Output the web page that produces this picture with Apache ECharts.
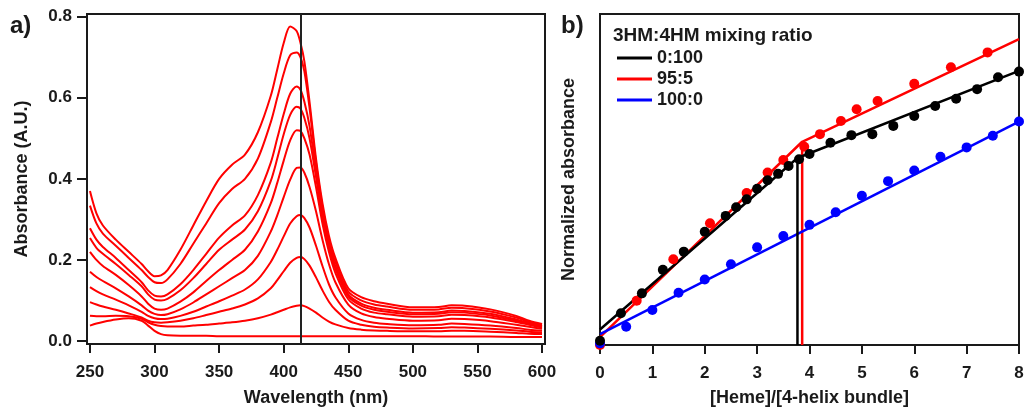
<!DOCTYPE html>
<html>
<head>
<meta charset="utf-8">
<script src="https://cdn.jsdelivr.net/npm/echarts@6/dist/echarts.min.js"></script>
<style>
  html, body { margin: 0; padding: 0; background: #fff; }
  #chart { width: 1025px; height: 407px; }
</style>
</head>
<body>
<div id="chart"></div>
<script>
// panel a : UV-vis titration spectra
var wavelengths = [250,255,260,270,280,290,295,300,305,310,320,330,340,350,360,370,380,390,395,400,405,410,413,416,420,425,430,435,440,450,460,470,480,500,520,530,540,560,580,590,600];

var spec1  = [0.370,0.315,0.285,0.250,0.220,0.190,0.172,0.160,0.162,0.175,0.225,0.285,0.345,0.400,0.435,0.460,0.515,0.605,0.670,0.735,0.776,0.765,0.735,0.690,0.590,0.450,0.340,0.260,0.205,0.130,0.108,0.098,0.092,0.083,0.084,0.088,0.087,0.078,0.062,0.050,0.042];
var spec2  = [0.334,0.290,0.265,0.235,0.205,0.175,0.158,0.145,0.143,0.152,0.190,0.240,0.290,0.340,0.375,0.400,0.450,0.540,0.600,0.660,0.705,0.712,0.700,0.665,0.575,0.440,0.330,0.250,0.195,0.122,0.100,0.090,0.085,0.077,0.078,0.082,0.081,0.073,0.058,0.047,0.040];
var spec3  = [0.278,0.250,0.232,0.205,0.175,0.145,0.125,0.112,0.110,0.115,0.140,0.175,0.215,0.255,0.285,0.310,0.360,0.440,0.500,0.560,0.610,0.628,0.620,0.590,0.530,0.420,0.315,0.240,0.185,0.115,0.092,0.082,0.077,0.070,0.071,0.075,0.074,0.067,0.053,0.044,0.037];
var spec4  = [0.254,0.230,0.215,0.190,0.163,0.135,0.115,0.102,0.100,0.104,0.125,0.155,0.190,0.225,0.250,0.275,0.320,0.395,0.450,0.510,0.558,0.578,0.573,0.550,0.500,0.405,0.305,0.232,0.178,0.110,0.087,0.077,0.072,0.066,0.067,0.071,0.070,0.063,0.050,0.042,0.035];
var spec5  = [0.220,0.200,0.185,0.163,0.138,0.110,0.092,0.080,0.077,0.080,0.097,0.120,0.148,0.175,0.200,0.225,0.270,0.340,0.390,0.445,0.495,0.520,0.518,0.500,0.460,0.380,0.290,0.220,0.168,0.103,0.080,0.070,0.066,0.060,0.061,0.065,0.064,0.058,0.047,0.040,0.033];
var spec6  = [0.171,0.158,0.148,0.130,0.110,0.088,0.075,0.067,0.064,0.066,0.078,0.095,0.115,0.135,0.155,0.175,0.210,0.270,0.310,0.355,0.398,0.427,0.428,0.415,0.380,0.320,0.250,0.190,0.145,0.090,0.068,0.059,0.055,0.050,0.051,0.055,0.054,0.049,0.040,0.035,0.030];
var spec7  = [0.133,0.123,0.115,0.102,0.088,0.072,0.062,0.056,0.054,0.055,0.062,0.072,0.085,0.098,0.112,0.127,0.152,0.195,0.225,0.258,0.290,0.308,0.311,0.303,0.280,0.235,0.185,0.140,0.108,0.068,0.052,0.045,0.042,0.039,0.040,0.043,0.042,0.038,0.032,0.028,0.025];
var spec8  = [0.096,0.090,0.085,0.077,0.068,0.058,0.050,0.046,0.045,0.046,0.050,0.056,0.064,0.072,0.080,0.090,0.105,0.130,0.150,0.172,0.193,0.205,0.207,0.202,0.186,0.157,0.125,0.097,0.077,0.050,0.040,0.035,0.033,0.031,0.032,0.034,0.033,0.030,0.026,0.023,0.021];
var spec9  = [0.062,0.061,0.061,0.062,0.061,0.055,0.046,0.040,0.037,0.036,0.036,0.038,0.040,0.043,0.046,0.050,0.056,0.065,0.071,0.077,0.083,0.087,0.088,0.086,0.080,0.070,0.058,0.048,0.041,0.032,0.028,0.026,0.025,0.024,0.024,0.025,0.025,0.023,0.020,0.018,0.017];
var spec10 = [0.038,0.043,0.047,0.053,0.056,0.050,0.038,0.025,0.017,0.014,0.013,0.013,0.013,0.012,0.012,0.012,0.012,0.012,0.012,0.012,0.012,0.012,0.012,0.012,0.012,0.012,0.012,0.012,0.012,0.012,0.012,0.012,0.012,0.012,0.011,0.011,0.011,0.011,0.010,0.010,0.010];
var spectra = [spec1, spec2, spec3, spec4, spec5, spec6, spec7, spec8, spec9, spec10];

var soretLine = 413;
var wlTicks = [250, 300, 350, 400, 450, 500, 550, 600];
var absTicks = [0, 0.2, 0.4, 0.6, 0.8];

// panel b : titration points + fits
var blackX = [0,0.4,0.8,1.2,1.6,2.0,2.4,2.6,2.8,3.0,3.2,3.4,3.6,3.8,4.0,4.4,4.8,5.2,5.6,6.0,6.4,6.8,7.2,7.6,8.0];
var blackY = [0.013,0.096,0.156,0.227,0.282,0.342,0.390,0.416,0.440,0.472,0.498,0.517,0.541,0.561,0.577,0.611,0.634,0.637,0.662,0.692,0.722,0.744,0.773,0.809,0.826];
var redX = [0,0.7,1.4,2.1,2.8,3.2,3.5,3.9,4.2,4.6,4.9,5.3,6.0,6.7,7.4];
var redY = [0.000,0.134,0.259,0.368,0.459,0.521,0.559,0.599,0.637,0.677,0.712,0.737,0.789,0.839,0.884];
var blueX = [0,0.5,1.0,1.5,2.0,2.5,3.0,3.5,4.0,4.5,5.0,5.5,6.0,6.5,7.0,7.5,8.0];
var blueY = [0.005,0.055,0.106,0.158,0.198,0.244,0.295,0.329,0.363,0.401,0.451,0.495,0.527,0.569,0.597,0.632,0.675];

// two-segment fits, break point = equivalence
var blackFitX = [0, 3.77, 8];
var blackFitY = [0.047, 0.565, 0.828];
var redFitX = [0, 3.86, 8];
var redFitY = [0.024, 0.614, 0.924];
var blueFitX = [0, 8];
var blueFitY = [0.033, 0.675];

var FONT = '"Liberation Sans", Arial, sans-serif';
var INK = '#1a1a1a';

function pairs(xs, ys) {
  var out = [];
  for (var i = 0; i < xs.length; i++) out.push([xs[i], ys[i]]);
  return out;
}

var series = [];
spectra.forEach(function (s, i) {
  series.push({
    type: 'line',
    xAxisIndex: 0, yAxisIndex: 0,
    data: pairs(wavelengths, s),
    showSymbol: false,
    smooth: 0.3,
    lineStyle: { color: '#ff0000', width: 2 },
    silent: true,
    z: 2,
    markLine: i === 0 ? {
      symbol: 'none',
      silent: true,
      label: { show: false },
      lineStyle: { color: '#222', width: 2, type: 'solid' },
      data: [{ xAxis: soretLine }]
    } : undefined
  });
});

function fitSeries(name, color, xs, ys) {
  var s = [{
    name: name, type: 'line', xAxisIndex: 1, yAxisIndex: 1,
    data: pairs(xs, ys), showSymbol: false, symbol: 'circle',
    itemStyle: { color: color },
    lineStyle: { color: color, width: 2.5 }
  }];
  // vertical drop at the break point
  if (xs.length > 2) {
    s.push({
      type: 'line', xAxisIndex: 1, yAxisIndex: 1,
      data: [[xs[1], 0], [xs[1], ys[1]]], showSymbol: false,
      lineStyle: { color: color, width: 2.5 }
    });
  }
  return s;
}

function dotSeries(color, xs, ys) {
  return {
    type: 'scatter', xAxisIndex: 1, yAxisIndex: 1,
    data: pairs(xs, ys), symbolSize: 10, clip: false,
    itemStyle: { color: color, opacity: 1 }, z: 3
  };
}

series = series
  .concat(fitSeries('95:5', '#ff0000', redFitX, redFitY))
  .concat([dotSeries('#ff0000', redX, redY)])
  .concat(fitSeries('100:0', '#0000ff', blueFitX, blueFitY))
  .concat([dotSeries('#0000ff', blueX, blueY)])
  .concat(fitSeries('0:100', '#000000', blackFitX, blackFitY))
  .concat([dotSeries('#000000', blackX, blackY)]);

var axisText = { fontFamily: FONT, fontWeight: 'bold', fontSize: 17, color: INK };
var nameText = { fontFamily: FONT, fontWeight: 'bold', fontSize: 18, color: INK };
var panelText = { fontFamily: FONT, fontWeight: 'bold', fontSize: 24, color: INK };

var chart = echarts.init(document.getElementById('chart'));
chart.setOption({
  animation: false,
  backgroundColor: '#fff',
  title: [
    { text: 'a)', left: 10, top: 14, padding: 0, textStyle: panelText },
    { text: 'b)', left: 561, top: 14, padding: 0, textStyle: panelText },
    { text: '3HM:4HM mixing ratio', left: 613, top: 26, padding: 0,
      textStyle: { fontFamily: FONT, fontWeight: 'bold', fontSize: 19, color: INK } }
  ],
  legend: {
    data: ['0:100', '95:5', '100:0'],
    orient: 'vertical',
    left: 612, top: 44,
    icon: 'rect', itemWidth: 35, itemHeight: 3, itemGap: 3,
    textStyle: { fontFamily: FONT, fontWeight: 'bold', fontSize: 18, color: INK, lineHeight: 18 },
    selectedMode: false
  },
  grid: [
    { left: 87, top: 14, width: 458, height: 330, outerBoundsMode: 'none',
      show: true, borderColor: INK, borderWidth: 2 },
    { left: 600, top: 14, width: 419, height: 331, outerBoundsMode: 'none',
      show: true, borderColor: INK, borderWidth: 2 }
  ],
  xAxis: [
    {
      gridIndex: 0, type: 'value', min: 247.7, max: 602.3,
      name: 'Wavelength (nm)', nameLocation: 'middle', nameGap: 45, nameTextStyle: nameText,
      axisLine: { onZero: false, lineStyle: { color: INK, width: 2 } },
      axisTick: { length: 9, lineStyle: { color: INK, width: 2 }, customValues: wlTicks },
      axisLabel: Object.assign({ margin: 20, customValues: wlTicks }, axisText),
      splitLine: { show: false }
    },
    {
      gridIndex: 1, type: 'value', min: 0, max: 8, interval: 1,
      name: '[Heme]/[4-helix bundle]', nameLocation: 'middle', nameGap: 44, nameTextStyle: nameText,
      axisLine: { onZero: false, lineStyle: { color: INK, width: 2 } },
      axisTick: { length: 9, lineStyle: { color: INK, width: 2 } },
      axisLabel: Object.assign({ margin: 20 }, axisText),
      splitLine: { show: false }
    }
  ],
  yAxis: [
    {
      gridIndex: 0, type: 'value', min: -0.0074, max: 0.8067,
      name: 'Absorbance (A.U.)', nameLocation: 'middle', nameGap: 56, nameTextStyle: nameText,
      axisLine: { onZero: false, lineStyle: { color: INK, width: 2 } },
      axisTick: { length: 10, lineStyle: { color: INK, width: 2 }, customValues: absTicks },
      axisLabel: Object.assign({
        margin: 15, customValues: absTicks,
        formatter: function (v) { return v.toFixed(1); }
      }, axisText),
      splitLine: { show: false }
    },
    {
      gridIndex: 1, type: 'value', min: 0, max: 1,
      name: 'Normalized absorbance', nameLocation: 'middle', nameGap: 22, nameTextStyle: nameText,
      axisLine: { onZero: false, lineStyle: { color: INK, width: 2 } },
      axisTick: { show: false },
      axisLabel: { show: false },
      splitLine: { show: false }
    }
  ],
  series: series
});
</script>
</body>
</html>
